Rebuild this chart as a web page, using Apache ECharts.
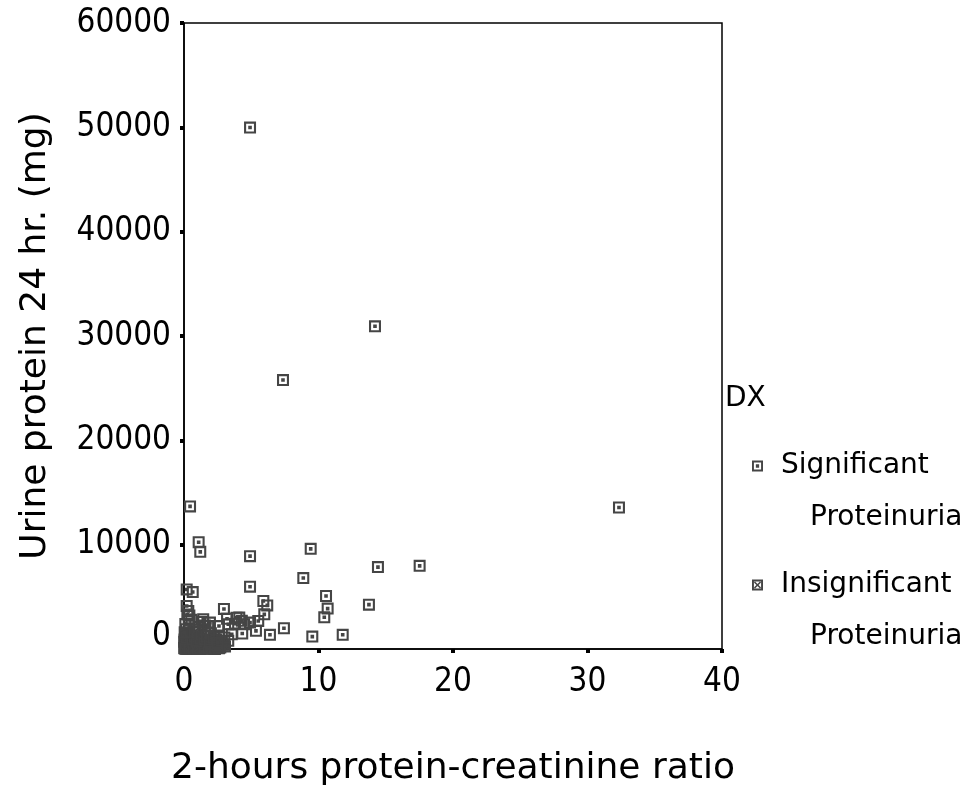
<!DOCTYPE html>
<html>
<head>
<meta charset="utf-8">
<script src="https://cdn.jsdelivr.net/npm/echarts@6/dist/echarts.min.js"></script>
<style>html,body{margin:0;padding:0;background:#fff}#c{width:968px;height:792px}</style>
</head>
<body>
<div id="c"></div>
<script>
// ---- data (x: 2-hours protein-creatinine ratio, y: urine protein 24 hr, mg) ----
var seriesNames = ['Significant Proteinuria', 'Insignificant Proteinuria'];
var significant = [
  [4.91, 49980], [14.20, 30930], [7.36, 25780], [32.34, 13560], [0.45, 13670],
  [1.09, 10230], [1.21, 9310], [4.91, 8900], [9.42, 9600], [8.87, 6800],
  [14.42, 7850], [17.52, 7970], [4.91, 5970], [10.56, 5080], [10.68, 3870],
  [10.43, 3040], [13.75, 4250], [5.90, 4600], [6.19, 4180], [5.97, 3320],
  [5.52, 2690], [2.97, 3840], [4.11, 3010], [4.91, 2530], [5.35, 1740],
  [4.33, 1480], [6.39, 1360], [7.43, 1990], [9.54, 1190], [11.80, 1360],
  [0.20, 5710], [0.65, 5460], [0.20, 4120], [0.32, 3650], [0.40, 3200],
  [0.55, 2800], [1.43, 2850], [1.93, 2530], [1.55, 2250], [3.29, 2370],
  [3.79, 2430], [4.46, 2370], [3.55, 1410], [3.29, 780], [2.00, 460],
  [2.50, 360], [3.20, 2900], [3.90, 3000], [4.30, 2700], [2.60, 2200],
  [0.10, 2400], [0.15, 1900], [0.30, 1500], [0.20, 1100], [0.40, 2000],
  [0.50, 1300], [0.60, 900], [0.70, 1700], [0.80, 1200], [0.90, 800],
  [1.00, 1600], [1.10, 2100], [1.20, 1000], [1.30, 1400], [1.50, 900],
  [1.60, 1800], [1.70, 1200], [1.90, 700], [2.00, 1500], [2.20, 1100],
  [2.40, 900], [2.60, 1300], [2.80, 800], [3.00, 1100], [2.50, 600],
  [0.25, 3300], [0.35, 2800], [1.40, 2600], [1.80, 2200], [0.05, 1600]
];
var insignificant = [
  [0.05, 50], [0.10, 120], [0.15, 200], [0.20, 80], [0.25, 300],
  [0.30, 150], [0.35, 60], [0.40, 250], [0.45, 400], [0.50, 100],
  [0.55, 180], [0.60, 320], [0.70, 90], [0.75, 220], [0.80, 140],
  [0.90, 60], [0.95, 280], [1.00, 170], [1.10, 100], [1.20, 240],
  [1.30, 130], [1.40, 60], [1.50, 200], [1.60, 110], [1.70, 300],
  [1.80, 150], [1.90, 80], [2.00, 220], [2.10, 120], [2.20, 50],
  [0.08, 350], [0.12, 450], [0.18, 30], [0.22, 520], [0.28, 600],
  [0.65, 480], [0.85, 420], [1.05, 380], [1.25, 460], [1.45, 350],
  [0.02, 700], [0.04, 900], [0.60, 700], [1.00, 650], [1.60, 550],
  [2.40, 250], [2.70, 150], [2.90, 400], [0.30, 20], [1.20, 10],
  [0.15, 800], [0.35, 950], [0.50, 550], [0.75, 620], [0.95, 820],
  [1.15, 560], [1.35, 720], [1.55, 400], [1.75, 600], [1.95, 380],
  [2.15, 520], [2.35, 440], [2.55, 300], [2.75, 500], [3.05, 250],
  [0.10, 1200], [0.25, 1350], [0.45, 1100], [0.85, 1000], [1.65, 850],
  [0.02, 100], [0.06, 250], [0.12, 20], [0.40, 30], [0.70, 10],
  [1.00, 30], [1.50, 20], [1.85, 30], [2.30, 10], [2.60, 60]
];
var xTicks = [0, 10, 20, 30, 40];
var yTicks = [0, 10000, 20000, 30000, 40000, 50000, 60000];

var FONT = 'DejaVu Sans';
var TICKFONT = '"DejaVu Sans Condensed", "DejaVu Sans"';
var sigPath = 'path://M0 0L20 0L20 20L0 20Z M3.5 3.5L3.5 16.5L16.5 16.5L16.5 3.5Z M7 7L13 7L13 13L7 13Z';
var insPath = 'path://M0 0L20 0L20 20L0 20Z M3.5 3.5L3.5 16.5L16.5 16.5L16.5 3.5Z M5.5 3.5L16.5 14.5L14.5 16.5L3.5 5.5Z M14.5 3.5L16.5 5.5L5.5 16.5L3.5 14.5Z';

var chart = echarts.init(document.getElementById('c'), null, {renderer: 'canvas'});
chart.setOption({
  backgroundColor: '#fff',
  animation: false,
  textStyle: {fontFamily: FONT},
  title: {
    text: 'DX', left: 720, top: 380,
    textStyle: {fontFamily: FONT, fontSize: 28, fontWeight: 'normal', color: '#000'}
  },
  legend: {
    orient: 'vertical', left: 747, top: 447,
    itemWidth: 11, itemHeight: 11, itemGap: 39,
    data: [
      {name: seriesNames[0], icon: sigPath},
      {name: seriesNames[1], icon: insPath}
    ],
    formatter: function (n) {
      var p = n.split(' ');
      return '{a|' + p[0] + '}\n{b|' + p[1] + '}';
    },
    textStyle: {
      fontFamily: FONT, fontSize: 28, color: '#000', padding: [52, 0, 0, 0],
      rich: {
        a: {fontFamily: FONT, fontSize: 28, color: '#000', lineHeight: 52, padding: [0, 0, 0, 13]},
        b: {fontFamily: FONT, fontSize: 28, color: '#000', lineHeight: 52, padding: [0, 0, 0, 42]}
      }
    }
  },
  grid: {
    left: 184, right: 246, top: 23, bottom: 141,
    show: true, borderColor: '#000', borderWidth: 1.5, backgroundColor: 'transparent'
  },
  xAxis: {
    type: 'value', min: xTicks[0], max: xTicks[xTicks.length - 1], interval: 10,
    name: '2-hours protein-creatinine ratio', nameLocation: 'middle', nameGap: 102,
    nameTextStyle: {fontFamily: FONT, fontSize: 36, color: '#000'},
    axisLine: {show: true, lineStyle: {color: '#000', width: 1.5}},
    axisTick: {show: true, inside: false, length: 4, lineStyle: {color: '#000', width: 4}},
    axisLabel: {margin: 17, fontFamily: TICKFONT, fontSize: 33, color: '#000'},
    splitLine: {show: false}
  },
  yAxis: {
    type: 'value', min: yTicks[0], max: yTicks[yTicks.length - 1], interval: 10000,
    name: 'Urine protein 24 hr. (mg)', nameLocation: 'middle', nameGap: 130, nameRotate: 90,
    nameTextStyle: {fontFamily: FONT, fontSize: 36, color: '#000'},
    axisLine: {show: true, lineStyle: {color: '#000', width: 1.5}},
    axisTick: {show: true, inside: false, length: 4, lineStyle: {color: '#000', width: 4}},
    axisLabel: {
      margin: 13, fontFamily: TICKFONT, fontSize: 33, color: '#000',
      formatter: function (v) { return v === 0 ? '{z|0}' : String(v); },
      rich: {z: {fontFamily: TICKFONT, fontSize: 33, color: '#000', padding: [0, 0, 26, 0]}}
    },
    splitLine: {show: false}
  },
  series: [
    {
      name: seriesNames[1], type: 'scatter', data: insignificant,
      symbol: insPath, symbolSize: 12,
      itemStyle: {color: '#454545', opacity: 1}, z: 2
    },
    {
      name: seriesNames[0], type: 'scatter', data: significant,
      symbol: sigPath, symbolSize: 12,
      itemStyle: {color: '#454545', opacity: 1}, z: 3
    }
  ]
});
</script>
</body>
</html>
